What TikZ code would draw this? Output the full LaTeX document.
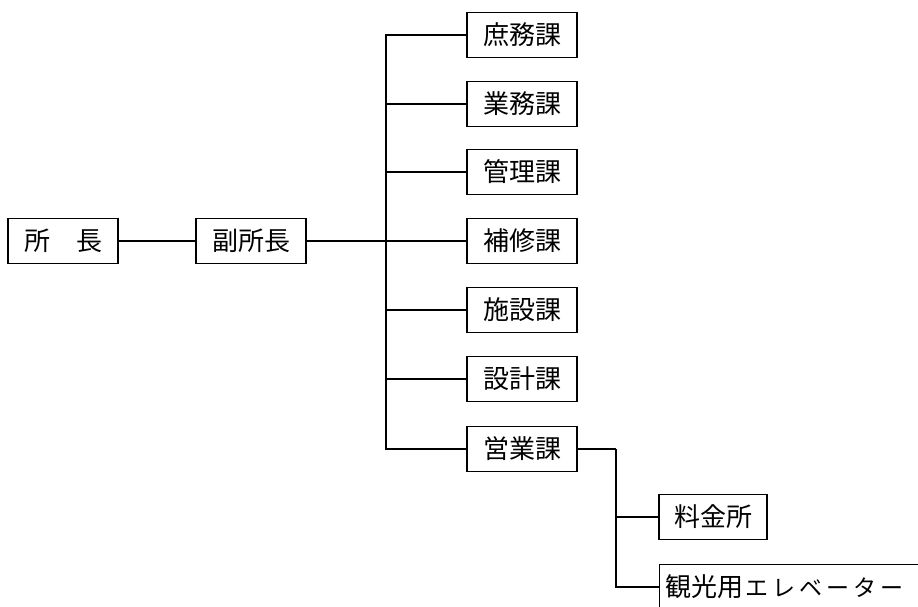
\documentclass[tikz,border=0pt]{standalone}
\usepackage{fontspec}
\setmainfont{Noto Sans CJK JP}
\newfontfamily\cjk{Noto Sans CJK JP}
\newcommand{\kc}[1]{\makebox[27pt]{#1}}
\begin{document}
\begin{tikzpicture}[x=1pt,y=-1pt,
  orgbox/.style={draw, line width=1.2pt, minimum width=110pt, minimum height=45pt, inner sep=0pt, font=\cjk\fontsize{26}{26}\selectfont},
  link/.style={line width=1.2pt}]
\useasboundingbox (0,0) rectangle (918,606);
\begin{scope}
\clip (0,0) rectangle (918,606);
\node[orgbox] (shocho) at (63,241) {所\hspace{1em}長};
\node[orgbox] (fuku) at (251,241) {副所長};
\node[orgbox] (k1) at (522,35) {庶務課};
\node[orgbox] (k2) at (522,104) {業務課};
\node[orgbox] (k3) at (522,172) {管理課};
\node[orgbox] (k4) at (522,241) {補修課};
\node[orgbox] (k5) at (522,310) {施設課};
\node[orgbox] (k6) at (522,379) {設計課};
\node[orgbox] (k7) at (522,449) {営業課};
\node[orgbox, minimum width=108pt] (ryokin) at (713,517) {料金所};
\node[orgbox, anchor=west, text width=250pt, inner xsep=6pt, align=left] (elev) at (659,587) {観光用{\fontsize{23}{23}\selectfont\kc{エ}\kc{レ}\kc{ベ}\kc{ー}\kc{タ}\kc{ー}}};
\coordinate (bus) at (386,241);
\coordinate (bus2) at (616,449);
\draw[link] (shocho.east) -- (fuku.west);
\draw[link] (fuku.east) -- (bus);
\foreach \k in {k1,k2,k3,k4,k5,k6,k7} {
  \draw[link] (bus) |- (\k.west);
}
\draw[link] (k7.east) -- (bus2);
\draw[link] (bus2) |- (ryokin.west);
\draw[link] (bus2) |- (elev.west);
\end{scope}
\end{tikzpicture}
\end{document}
